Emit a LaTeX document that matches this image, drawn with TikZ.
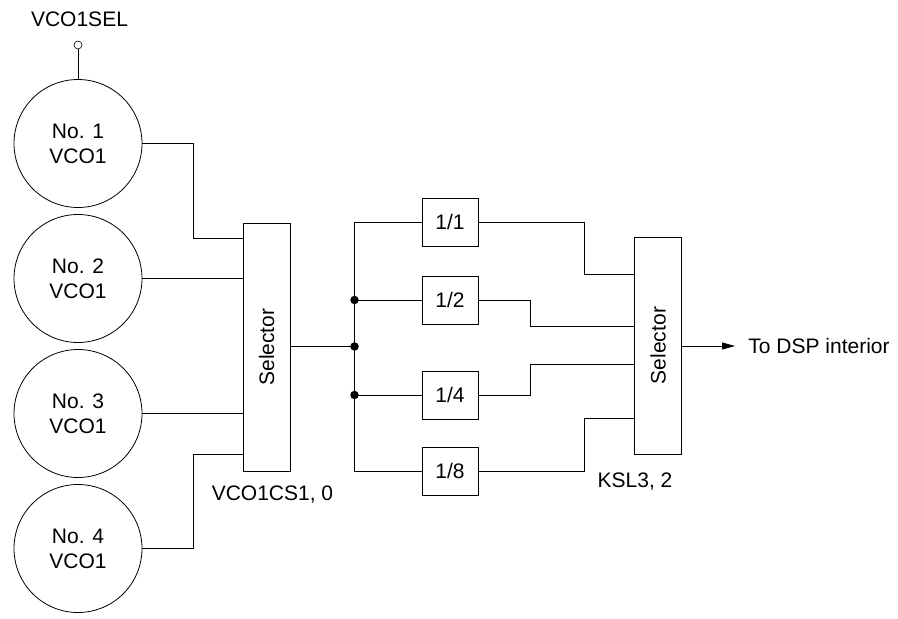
\documentclass[tikz,border=0pt]{standalone}
\usepackage{fontspec}
\setmainfont{Liberation Sans}
\usetikzlibrary{arrows.meta}
\begin{document}
\begin{tikzpicture}[x=1pt,y=-1pt,line width=0.8pt,
  every node/.style={font=\fontsize{21}{25}\selectfont},
  vco/.style={draw, circle, minimum size=128pt, inner sep=0pt, align=center},
  divbox/.style={draw, rectangle, minimum width=56pt, minimum height=48pt},
  selbox/.style={draw, rectangle, minimum width=47pt, inner sep=0pt},
  dot/.style={circle, fill, inner sep=0pt, minimum size=8.5pt}]
\useasboundingbox (0,0) rectangle (898,619);
% oscillators
\node (selname) at (79.5,19) {VCO1SEL};
\node[draw, circle, minimum size=8pt, inner sep=0pt, line width=0.6pt] (pin) at (78,45) {};
\node[vco] (c1) at (78,143.5) {No. 1\\VCO1};
\node[vco] (c2) at (78,278.5) {No. 2\\VCO1};
\node[vco] (c3) at (78,413.5) {No. 3\\VCO1};
\node[vco] (c4) at (78,548.5) {No. 4\\VCO1};
\draw (pin) -- (c1);
% first selector
\node[selbox, minimum height=248pt] (sel1) at (266.5,347) {\rotatebox{90}{Selector}};
\node (cs) at (272.5,495) {VCO1CS1, 0};
\draw (c1.east) -- ++(51,0) |- (sel1.west |- 0,238);
\draw (c2.east) -- (sel1.west |- c2.east);
\draw (c3.east) -- (sel1.west |- c3.east);
\draw (c4.east) -- ++(51,0) |- (sel1.west |- 0,454);
% dividers
\coordinate (bus) at (354.5,346.5);
\node[divbox] (d1) at (450,222) {1/1};
\node[divbox] (d2) at (450,300) {1/2};
\node[divbox] (d4) at (450,395) {1/4};
\node[divbox] (d8) at (450,471) {1/8};
\draw (sel1.east |- bus) -- (bus);
\draw (d1.west) -| (bus) |- (d8.west);
\draw (d2.west) -- (d2.west -| bus);
\draw (d4.west) -- (d4.west -| bus);
\node[dot] at (d2.west -| bus) {};
\node[dot] at (bus) {};
\node[dot] at (d4.west -| bus) {};
% second selector
\node[selbox, minimum height=217pt] (sel2) at (658,345.5) {\rotatebox{90}{Selector}};
\node (ksl) at (635,482) {KSL3, 2};
\draw (d1.east) -- ++(106,0) |- (sel2.west |- 0,274);
\draw (d2.east) -- ++(52,0) |- (sel2.west |- 0,326);
\draw (d4.east) -- ++(52,0) |- (sel2.west |- 0,364);
\draw (d8.east) -- ++(106,0) |- (sel2.west |- 0,418);
\node[anchor=west, inner sep=0pt] (dsp) at (748,346) {To DSP interior};
\draw[-{Triangle[length=13pt,width=7pt]}, shorten >=13pt] (sel2.east |- dsp.west) -- (dsp.west);
\end{tikzpicture}
\end{document}
